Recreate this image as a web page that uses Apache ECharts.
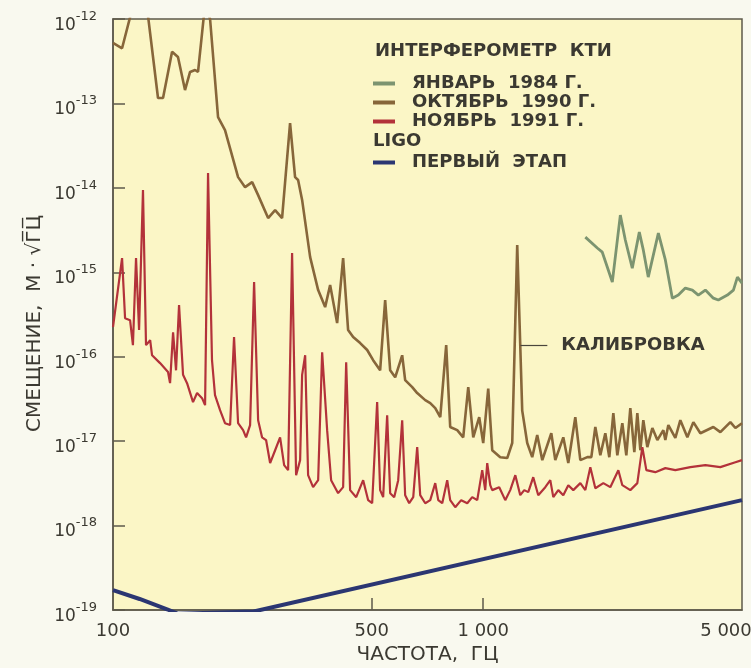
<!DOCTYPE html>
<html>
<head>
<meta charset="utf-8">
<script src="https://cdn.jsdelivr.net/npm/echarts@6/dist/echarts.min.js"></script>
<style>
  html, body { margin: 0; padding: 0; background: #f9f9ef; }
  #chart { width: 751px; height: 668px; }
</style>
</head>
<body>
<div id="chart"></div>
<script>
// Displacement noise spectra of the KTI interferometer and the LIGO first-stage goal.
// Frequencies in Hz, displacement in m/√Hz.

const jan1984Freq = [1887, 2033, 2097, 2232, 2346, 2420, 2527, 2640, 2707, 2791, 2972, 3104,
  3242, 3365, 3515, 3672, 3811, 3981, 4184, 4316, 4566, 4740, 4860, 5000];
const jan1984Disp = [2.61e-15, 1.94e-15, 1.73e-15, 7.66e-16, 4.76e-15, 2.41e-15, 1.12e-15, 2.99e-15,
  1.83e-15, 8.77e-16, 2.91e-15, 1.40e-15, 4.94e-16, 5.37e-16, 6.5e-16, 6.15e-16, 5.37e-16, 6.15e-16,
  4.94e-16, 4.69e-16, 5.37e-16, 6.15e-16, 8.77e-16, 7.45e-16];

const oct1990Freq = [100, 105.8, 112.6, 116.8, 124.3, 132.3, 136.5, 144.4, 149.8, 156.5, 161.5, 166.6,
  169.7, 177.3, 182.9, 192.2, 200.7, 217.7, 227.4, 237.6, 246.6, 262.4, 274.1, 286.2, 300.8, 310.3,
  316.2, 324.2, 340.8, 358.2, 374.1, 385.9, 403.1, 418.4, 431.6, 445.3, 465.2, 485.9, 504.3, 526.7,
  543.4, 560.6, 578.4, 604.1, 615.4, 643, 663.2, 697.2, 719.3, 742, 765.5, 794.3, 814.3, 850.6, 883,
  911.1, 939.8, 975.4, 1000, 1031.6, 1057.5, 1111.5, 1161.1, 1197.7, 1235.5, 1274.5, 1314.8, 1356.3,
  1399.1, 1443.9, 1527.1, 1565.5, 1645.4, 1697.4, 1773, 1829.3, 1910.6, 1958.8, 2008.1, 2071.6,
  2136.9, 2190.7, 2246.1, 2302.6, 2375.3, 2435.1, 2496.4, 2559.4, 2607.6, 2656.7, 2706.7, 2774.9,
  2862.9, 2953.4, 3065.6, 3104, 3162.3, 3303.1, 3407.4, 3559.5, 3694.7, 3859.2, 4183.7, 4370,
  4651.5, 4798.5, 5000];
const oct1990Disp = [5.2e-13, 4.5e-13, 1.3e-12, 1.7e-12, 1.1e-12, 1.16e-13, 1.16e-13, 4.1e-13, 3.55e-13,
  1.44e-13, 2.36e-13, 2.49e-13, 2.36e-13, 1.5e-12, 1e-12, 6.9e-14, 4.84e-14, 1.34e-14, 1.02e-14,
  1.17e-14, 8.2e-15, 4.39e-15, 5.45e-15, 4.39e-15, 5.86e-14, 1.34e-14, 1.24e-14, 7.2e-15, 1.51e-15,
  6.15e-16, 3.87e-16, 7.05e-16, 2.5e-16, 1.47e-15, 2.07e-16, 1.71e-16, 1.45e-16, 1.2e-16, 9.1e-17,
  6.9e-17, 4.69e-16, 6.9e-17, 5.7e-17, 1.04e-16, 5.28e-17, 4.36e-17, 3.71e-17, 3.06e-17, 2.82e-17,
  2.46e-17, 1.92e-17, 1.37e-16, 1.47e-17, 1.35e-17, 1.11e-17, 4.36e-17, 1.11e-17, 1.92e-17, 9.5e-18,
  4.2e-17, 7.8e-18, 6.46e-18, 6.3e-18, 9.5e-18, 2.1e-15, 2.3e-17, 9.5e-18, 6.46e-18, 1.18e-17,
  5.96e-18, 1.24e-17, 5.96e-18, 1.11e-17, 5.5e-18, 1.92e-17, 5.96e-18, 6.46e-18, 6.46e-18, 1.47e-17,
  6.8e-18, 1.24e-17, 6.46e-18, 2.15e-17, 6.8e-18, 1.63e-17, 6.8e-18, 2.46e-17, 7.4e-18, 2.15e-17,
  7.8e-18, 1.77e-17, 8.5e-18, 1.43e-17, 1.03e-17, 1.35e-17, 1.03e-17, 1.55e-17, 1.09e-17, 1.77e-17,
  1.11e-17, 1.68e-17, 1.24e-17, 1.47e-17, 1.28e-17, 1.68e-17, 1.43e-17, 1.63e-17];

const nov1991Freq = [100, 105.8, 107.8, 111.2, 113.2, 115.4, 117.6, 120.5, 122.8, 126, 127.5, 134,
  140.8, 142.6, 145.3, 148, 150.8, 154.6, 158.5, 164.5, 168.7, 174, 177.3, 180.6, 185.1, 188.6, 194.6,
  200.7, 207.2, 212.3, 217.7, 224.6, 228.8, 234.6, 240.5, 246.6, 252.7, 259.1, 265.7, 274.1, 282.7,
  289.9, 297.2, 304.6, 312.3, 320.2, 324.2, 330.4, 336.5, 347.1, 358.2, 367.2, 378.8, 388.3, 405.6,
  418.4, 426.4, 437, 453.8, 473.9, 488.9, 501.2, 517, 526.7, 536.7, 550.2, 560.6, 574.8, 589.3, 604.1,
  615.4, 631, 647.1, 663.2, 675.7, 697.2, 719.3, 742, 756, 775, 799.3, 814.3, 840.2, 871.9, 905.4,
  933.9, 963.4, 993.8, 1012.5, 1025.2, 1044.5, 1057.5, 1104.6, 1146.8, 1183, 1220.9, 1258.9, 1290.7,
  1323.4, 1365, 1408, 1471.1, 1517.5, 1546.1, 1594.9, 1645.4, 1697.4, 1750.9, 1829.3, 1887, 1946.6,
  2008.1, 2110.6, 2204, 2317.1, 2375.3, 2496.4, 2607.6, 2690, 2757.8, 2916.7, 3104, 3303.1, 3627,
  3981, 4370, 4798.5, 5000];
const nov1991Disp = [2.24e-16, 1.47e-15, 2.86e-16, 2.71e-16, 1.37e-16, 1.47e-15, 2.07e-16, 9.4e-15,
  1.37e-16, 1.57e-16, 1.04e-16, 8.4e-17, 6.6e-17, 4.86e-17, 1.95e-16, 6.9e-17, 4.08e-16, 6.1e-17,
  4.86e-17, 2.9e-17, 3.71e-17, 3.23e-17, 2.67e-17, 1.5e-14, 9.1e-17, 3.51e-17, 2.33e-17, 1.63e-17,
  1.55e-17, 1.71e-16, 1.63e-17, 1.35e-17, 1.11e-17, 1.55e-17, 7.66e-16, 1.77e-17, 1.11e-17, 1.03e-17,
  5.5e-18, 7.8e-18, 1.11e-17, 5.2e-18, 4.53e-18, 1.69e-15, 3.95e-18, 5.96e-18, 6.1e-17, 1.04e-16,
  3.95e-18, 2.85e-18, 3.45e-18, 1.13e-16, 1.35e-17, 3.45e-18, 2.42e-18, 2.85e-18, 8.6e-17, 2.63e-18,
  2.17e-18, 3.45e-18, 2.0e-18, 1.84e-18, 2.9e-17, 2.63e-18, 2.17e-18, 2.03e-17, 2.42e-18, 2.17e-18,
  3.45e-18, 1.77e-17, 2.29e-18, 1.84e-18, 2.17e-18, 8.5e-18, 2.29e-18, 1.84e-18, 2.0e-18, 3.18e-18,
  2.0e-18, 1.84e-18, 3.45e-18, 2.0e-18, 1.65e-18, 2.0e-18, 1.84e-18, 2.17e-18, 2.0e-18, 4.53e-18,
  2.63e-18, 5.5e-18, 3.01e-18, 2.63e-18, 2.85e-18, 2.0e-18, 2.63e-18, 3.95e-18, 2.29e-18, 2.63e-18,
  2.49e-18, 3.74e-18, 2.29e-18, 2.85e-18, 3.45e-18, 2.17e-18, 2.63e-18, 2.29e-18, 3.01e-18, 2.63e-18,
  3.18e-18, 2.63e-18, 4.92e-18, 2.77e-18, 3.18e-18, 2.85e-18, 4.53e-18, 3.01e-18, 2.63e-18, 3.18e-18,
  8.5e-18, 4.53e-18, 4.29e-18, 4.79e-18, 4.53e-18, 4.92e-18, 5.2e-18, 4.92e-18, 5.63e-18, 5.96e-18];

const ligoFreq = [100, 118, 140, 150, 240, 5000];
const ligoDisp = [1.72e-19, 1.35e-19, 1.02e-19, 0.9e-19, 0.96e-19, 2.0e-18];

// Frequency axis labels / tick marks (Hz)
const freqLabels = [100, 500, 1000, 5000];
const freqTicks = [500, 1000];
// Calibration line marker: leader line from/to (Hz) at a displacement level
const calibLeader = { fromHz: 1260, toHz: 1490, level: 1.37e-16 };

const lg = Math.log10;
const toPoints = (freq, disp) => freq.map((f, i) => [lg(f), disp[i]]);
const fmtHz = n => String(n).replace(/\B(?=(\d{3})+(?!\d))/g, ' ');

const FONT = 'DejaVu Sans';
const TEXT = '#3b3931';
const FRAME = '#5d594b';

const COLORS = {
  jan: '#7c9470',
  oct: '#87663a',
  nov: '#b3323a',
  ligo: '#2b3672'
};

const chart = echarts.init(document.getElementById('chart'), null, { renderer: 'canvas' });

const legendText = { fontFamily: FONT, fontSize: 18, fontWeight: 'bold', color: TEXT, lineHeight: 19, padding: [0, 0, 0, 12] };

chart.setOption({
  animation: false,
  backgroundColor: '#f9f9ef',
  grid: {
    left: 113, right: 9, top: 19, bottom: 58,
    outerBoundsMode: 'none', containLabel: false,
    show: true, backgroundColor: '#fbf6c6', borderColor: FRAME, borderWidth: 1.5
  },
  xAxis: {
    type: 'value',
    min: lg(100), max: lg(5000),
    axisLine: { show: true, lineStyle: { color: FRAME, width: 1.5 } },
    axisTick: { show: true, inside: true, length: 12, customValues: freqTicks.map(lg), lineStyle: { color: FRAME, width: 1.5 } },
    axisLabel: {
      customValues: freqLabels.map(lg),
      formatter: v => {
        const hz = Math.round(Math.pow(10, v));
        return hz === 5000 ? '{edge|' + fmtHz(hz) + '}' : fmtHz(hz);
      },
      margin: 12, fontFamily: FONT, fontSize: 18, color: TEXT,
      rich: { edge: { fontFamily: FONT, fontSize: 18, color: TEXT, padding: [0, 32, 0, 0] } }
    },
    splitLine: { show: false },
    name: 'ЧАСТОТА,  ГЦ', nameLocation: 'middle', nameGap: 32,
    nameTextStyle: { fontFamily: FONT, fontSize: 20, color: TEXT }
  },
  yAxis: {
    type: 'log', logBase: 10,
    min: 1e-19, max: 1e-12,
    axisLine: { show: true, lineStyle: { color: FRAME, width: 1.5 } },
    axisTick: { show: true, inside: true, length: 12, lineStyle: { color: FRAME, width: 1.5 } },
    axisLabel: {
      margin: 16,
      padding: [6, 0, 0, 0],
      formatter: v => '{b|10}{e|' + Math.round(Math.log10(v)) + '}',
      rich: {
        b: { fontFamily: FONT, fontSize: 17, color: TEXT, lineHeight: 24, verticalAlign: 'bottom' },
        e: { fontFamily: FONT, fontSize: 13, color: TEXT, lineHeight: 4, verticalAlign: 'top' }
      }
    },
    splitLine: { show: false },
    name: 'СМЕЩЕНИЕ,  М · √Г̅Ц̅', nameLocation: 'middle', nameRotate: 90, nameGap: 68,
    nameMoveOverlap: false,
    nameTextStyle: { fontFamily: FONT, fontSize: 20, color: TEXT, padding: [0, 18, 0, 0] }
  },
  legend: [
    {
      data: ['ЯНВАРЬ  1984 Г.', 'ОКТЯБРЬ  1990 Г.', 'НОЯБРЬ  1991 Г.'],
      orient: 'vertical', left: 373, top: 74, padding: 0, itemGap: 0,
      icon: 'rect', itemWidth: 22, itemHeight: 4, selectedMode: false,
      textStyle: legendText
    },
    {
      data: ['ПЕРВЫЙ  ЭТАП'],
      orient: 'vertical', left: 373, top: 153, padding: 0, itemGap: 0,
      icon: 'rect', itemWidth: 22, itemHeight: 4, selectedMode: false,
      textStyle: legendText
    }
  ],
  graphic: [
    { type: 'text', left: 375, top: 42, style: { text: 'ИНТЕРФЕРОМЕТР  КТИ', font: 'bold 18px "DejaVu Sans"', fill: TEXT } },
    { type: 'text', left: 373, top: 132, style: { text: 'LIGO', font: 'bold 18px "DejaVu Sans"', fill: TEXT } }
  ],
  series: [
    {
      name: 'ПЕРВЫЙ  ЭТАП', type: 'line', data: toPoints(ligoFreq, ligoDisp),
      showSymbol: false, lineStyle: { color: COLORS.ligo, width: 4 }, itemStyle: { color: COLORS.ligo }, z: 2
    },
    {
      name: 'ЯНВАРЬ  1984 Г.', type: 'line', data: toPoints(jan1984Freq, jan1984Disp),
      showSymbol: false, lineStyle: { color: COLORS.jan, width: 2.8 }, itemStyle: { color: COLORS.jan }, z: 3
    },
    {
      name: 'ОКТЯБРЬ  1990 Г.', type: 'line', data: toPoints(oct1990Freq, oct1990Disp),
      showSymbol: false, lineStyle: { color: COLORS.oct, width: 2.6 }, itemStyle: { color: COLORS.oct }, z: 4,
      markLine: {
        silent: true, symbol: 'none', animation: false,
        lineStyle: { color: '#4a463c', width: 1.2, type: 'solid' },
        label: { show: true, position: 'end', distance: 14, formatter: 'КАЛИБРОВКА', fontFamily: FONT, fontSize: 18, fontWeight: 'bold', color: TEXT },
        data: [[
          { coord: [lg(calibLeader.fromHz), calibLeader.level] },
          { coord: [lg(calibLeader.toHz), calibLeader.level] }
        ]]
      }
    },
    {
      name: 'НОЯБРЬ  1991 Г.', type: 'line', data: toPoints(nov1991Freq, nov1991Disp),
      showSymbol: false, lineStyle: { color: COLORS.nov, width: 2.2 }, itemStyle: { color: COLORS.nov }, z: 5
    }
  ]
});
</script>
</body>
</html>
